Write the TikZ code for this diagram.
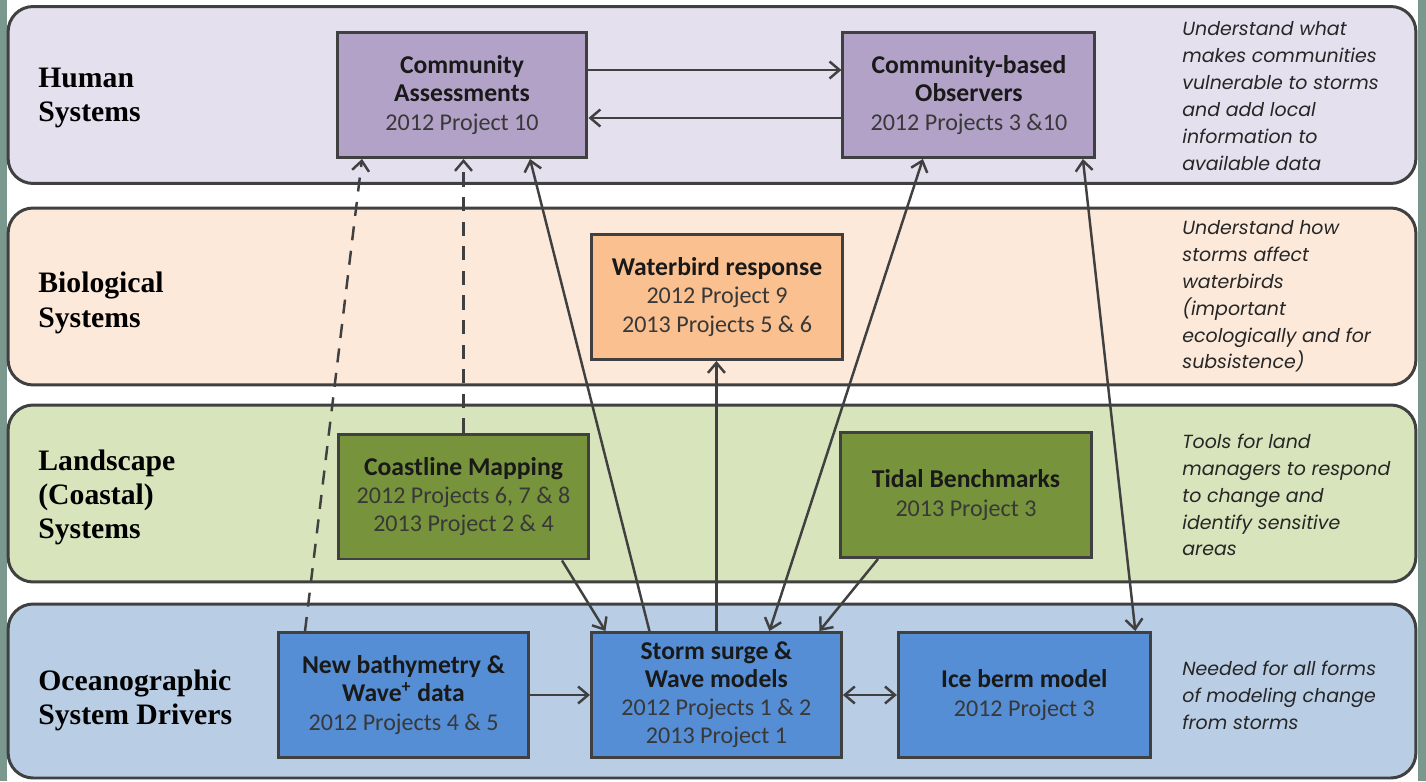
\documentclass[tikz,border=0pt]{standalone}
\usepackage{fontspec}
\setmainfont{Liberation Serif}
\newfontfamily\boxfont{Carlito}
\newfontfamily\notefont{Poppins}
\usetikzlibrary{arrows.meta,positioning}
\definecolor{edgegray}{HTML}{404040}
\definecolor{framegreen}{RGB}{122,152,142}
\definecolor{humanband}{HTML}{E4E0EE}
\definecolor{bioband}{HTML}{FDE9D9}
\definecolor{landband}{HTML}{D8E4BC}
\definecolor{oceanband}{HTML}{B9CDE5}
\definecolor{humanfill}{HTML}{B3A2C7}
\definecolor{biofill}{HTML}{FAC090}
\definecolor{landfill}{HTML}{77933C}
\definecolor{oceanfill}{HTML}{558ED5}
\definecolor{subtext}{HTML}{383838}
\tikzset{
  band/.style={
    draw=edgegray,
    line width=1.7pt,
    rounded corners=0.5cm,
    minimum width=28.16cm,
    minimum height=3.54cm
  },
  rowlabel/.style={anchor=west, align=left, inner sep=0pt,
    font=\bfseries\fontsize{16.9}{19.5}\selectfont},
  note/.style={anchor=west, align=left, inner sep=0pt, text=black!85,
    font=\notefont\itshape\fontsize{10.8}{15.3}\selectfont},
  box/.style={
    draw=edgegray,
    line width=1.7pt,
    align=center,
    inner sep=2pt,
    minimum width=5cm,
    minimum height=2.5cm,
    text=black!90,
    font=\boxfont\bfseries\fontsize{14.6}{16}\selectfont
  },
  humanbox/.style={box, fill=humanfill},
  biobox/.style={box, fill=biofill},
  landbox/.style={box, fill=landfill},
  oceanbox/.style={box, fill=oceanfill},
  arrow/.style={-{Straight Barb[length=2mm,width=3.4mm]}, line width=1.4pt, draw=edgegray},
  twoway/.style={arrow, {Straight Barb[length=2mm,width=3.4mm]}-{Straight Barb[length=2mm,width=3.4mm]}},
  dasharrow/.style={arrow, dash pattern=on 8pt off 6pt}
}
\newcommand{\projline}[1]{{\mdseries\fontsize{13.7}{16}\selectfont\color{subtext}#1}}

\begin{document}
\begin{tikzpicture}[x=0.02cm, y=-0.02cm]
    \useasboundingbox (0,0) rectangle (1426,781);
    \fill[white] (0,0) rectangle (1426,781);
    \fill[framegreen] (0,0) rectangle (7,781);
    \fill[framegreen] (1418,0) rectangle (1426,781);

    % the four system rows
    \node[band, fill=humanband] (humanrow) at (712,95) {};
    \node[band, fill=bioband] (biorow) at (712,296.5) {};
    \node[band, fill=landband] (landrow) at (712,493.5) {};
    \node[band, fill=oceanband, minimum height=3.48cm] (oceanrow) at (712,691) {};

    \node[rowlabel] (humanlbl) at (38,98) {Human\\Systems};
    \node[rowlabel] (biolbl) at (38,303) {Biological\\Systems};
    \node[rowlabel] (landlbl) at (38,497.5) {Landscape\\(Coastal)\\Systems};
    \node[rowlabel] (oceanlbl) at (38,700.5) {Oceanographic\\System Drivers};

    \node[note] (humannote) at (1182,96) {Understand what\\makes communities\\vulnerable to storms\\and add local\\information to\\available data};
    \node[note] (bionote) at (1182,296.5) {Understand how\\storms affect\\waterbirds\\(important\\ecologically and for\\subsistence)};
    \node[note] (landnote) at (1182,495) {Tools for land\\managers to respond\\to change and\\identify sensitive\\areas};
    \node[note] (oceannote) at (1182,695.5) {Needed for all forms\\of modeling change\\from storms};

    % project boxes
    \node[humanbox] (ca) at (462,95) {Community\\Assessments\\\projline{2012 Project 10}};
    \node[humanbox, minimum width=5.04cm, right=5.06cm of ca] (cbo) {Community-based\\Observers\\\projline{2012 Projects 3 \&10}};
    \node[biobox, minimum width=5.04cm] (wb) at (717,297) {Waterbird response\\\projline{2012 Project 9}\\\projline{2013 Projects 5 \& 6}};
    \node[landbox, minimum width=5.02cm] (cm) at (463.5,496.5) {Coastline Mapping\\\projline{2012 Projects 6, 7 \& 8}\\\projline{2013 Project 2 \& 4}};
    \node[landbox, minimum width=5.04cm] (tb) at (966,495) {Tidal Benchmarks\\\projline{2013 Project 3}};
    \node[oceanbox] (nb) at (403.5,695) {New bathymetry \&\\Wave\textsuperscript{+} data\\\projline{2012 Projects 4 \& 5}};
    \node[oceanbox, right=1.2cm of nb] (ss) {Storm surge \&\\Wave models\\\projline{2012 Projects 1 \& 2}\\\projline{2013 Project 1}};
    \node[oceanbox, minimum width=5.04cm, right=1.08cm of ss] (ib) {Ice berm model\\\projline{2012 Project 3}};

    % links between projects
    \draw[arrow] ([yshift=0.5cm]ca.east) -- ([yshift=0.5cm]ca.east -| cbo.west);
    \draw[arrow] ([yshift=-0.46cm]cbo.west) -- ([yshift=-0.46cm]cbo.west -| ca.east);
    \draw[dasharrow] ([xshift=-1.97cm]nb.north) -- ([xshift=-2cm]ca.south);
    \draw[dasharrow] (cm.north) -- (cm.north |- ca.south);
    \draw[arrow] ([xshift=-1.34cm]ss.north) -- ([xshift=1.36cm]ca.south);
    \draw[arrow] (ss.north) -- (ss.north |- wb.south);
    \draw[twoway] ([xshift=1.06cm]ss.north) -- ([xshift=-0.92cm]cbo.south);
    \draw[arrow] ([xshift=1.97cm]cm.south) -- ([xshift=-2.22cm]ss.north);
    \draw[arrow] ([xshift=-1.76cm]tb.south) -- ([xshift=2.06cm]ss.north);
    \draw[twoway] ([xshift=2.28cm]cbo.south) -- ([xshift=2.22cm]ib.north);
    \draw[arrow] (nb) -- (ss);
    \draw[twoway] (ss) -- (ib);
\end{tikzpicture}
\end{document}
